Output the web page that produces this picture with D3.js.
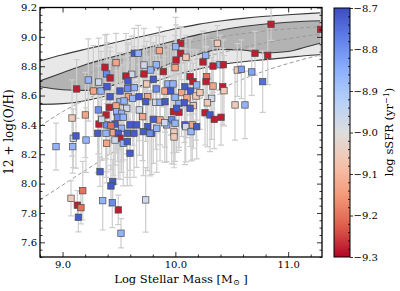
<!DOCTYPE html>
<html>
<head>
<meta charset="utf-8">
<script src="https://cdn.jsdelivr.net/npm/d3@7"></script>
<style>
  body { margin: 0; background: #fff; }
  svg { display: block; font-family: "DejaVu Serif", serif; }
</style>
</head>
<body>
<svg id="chart" width="400" height="291"></svg>
<script>
// ---- galaxies: stellar mass, metallicity, error, sSFR ----
const mass = [
  9.636, 9.671, 9.858, 10.047, 10.003, 10.047, 10.094, 10.006, 9.997, 10.245,
  10.334, 10.269, 10.372, 10.396, 10.425, 10.706, 10.819, 10.848, 11.288, 9.474,
  9.376, 9.722, 9.83, 9.613, 9.722, 9.781, 9.893, 10.13, 10.156, 10.278,
  10.272, 9.391, 9.421, 9.228, 9.32, 9.804, 9.562, 9.58, 9.125, 9.273,
  9.341, 9.394, 9.509, 9.577, 9.636, 9.83, 9.935, 9.979, 9.908, 9.959,
  10.085, 10.136, 10.189, 9.746, 10.056, 10.103, 10.183, 10.218, 10.334, 10.42,
  10.431, 10.322, 10.283, 10.529, 10.617, 10.677, 10.549, 10.585, 10.774, 10.263,
  10.307, 10.345, 10.405, 10.032, 9.421, 9.583, 9.622, 9.678, 9.755, 9.509,
  9.545, 9.474, 9.414, 9.569, 9.317, 9.48, 9.524, 9.68, 9.71, 9.737,
  9.826, 9.864, 9.908, 10.032, 10.079, 10.159, 9.804, 9.864, 9.968, 9.997,
  10.085, 10.15, 9.982, 9.923, 9.385, 9.084, 9.202, 9.323, 9.391, 9.465,
  9.524, 9.598, 9.657, 9.755, 9.79, 9.835, 9.906, 9.716, 9.312, 9.385,
  9.45, 9.494, 9.574, 9.509, 9.465, 9.391, 9.538, 9.574, 9.208, 9.095,
  8.942, 9.09, 9.988, 9.988, 10.092, 10.139, 10.189, 9.598, 9.737, 9.332,
  9.445, 9.429, 9.179, 9.075, 9.356, 9.441, 9.131, 9.163, 9.494, 9.14,
  9.518, 9.119, 9.429, 9.997, 10.13, 10.012, 9.489, 9.538, 9.347, 9.633,
  9.775
];
const oh = [
  8.888, 8.888, 8.906, 8.956, 8.933, 8.888, 8.861, 8.842, 8.79, 8.829,
  8.801, 8.874, 8.956, 8.81, 8.81, 8.888, 8.874, 9.086, 9.051, 8.824,
  8.793, 8.808, 8.81, 8.745, 8.747, 8.774, 8.763, 8.729, 8.695, 8.729,
  8.695, 8.747, 8.72, 8.706, 8.692, 8.711, 8.733, 8.699, 8.645, 8.631,
  8.631, 8.66, 8.631, 8.647, 8.654, 8.645, 8.679, 8.679, 8.631, 8.631,
  8.66, 8.631, 8.672, 8.679, 8.62, 8.584, 8.597, 8.62, 8.665, 8.66,
  8.633, 8.581, 8.551, 8.536, 8.536, 8.761, 8.774, 8.779, 8.695, 8.483,
  8.468, 8.438, 8.452, 8.486, 8.592, 8.592, 8.581, 8.592, 8.592, 8.558,
  8.563, 8.529, 8.52, 8.513, 8.502, 8.49, 8.479, 8.502, 8.456, 8.558,
  8.554, 8.554, 8.558, 8.547, 8.551, 8.531, 8.438, 8.434, 8.434, 8.411,
  8.4, 8.4, 8.49, 8.4, 8.468, 8.447, 8.468, 8.406, 8.4, 8.406,
  8.377, 8.4, 8.4, 8.388, 8.343, 8.377, 8.415, 8.354, 8.343, 8.343,
  8.347, 8.343, 8.343, 8.309, 8.297, 8.275, 8.275, 8.286, 8.297, 8.309,
  8.252, 8.252, 8.352, 8.318, 8.388, 8.354, 8.388, 8.207, 7.889, 8.081,
  8.013, 7.984, 7.952, 7.9, 7.884, 7.87, 7.853, 7.836, 7.821, 7.771,
  7.662, 8.325, 8.395, 8.588, 8.513, 8.513, 8.452, 8.452, 8.438, 8.343,
  8.343
];
const ohErr = [
  0.17, 0.19, 0.16, 0.11, 0.2, 0.18, 0.15, 0.24, 0.22, 0.21,
  0.18, 0.14, 0.12, 0.2, 0.17, 0.15, 0.2, 0.11, 0.18, 0.2,
  0.22, 0.25, 0.2, 0.26, 0.19, 0.23, 0.24, 0.26, 0.22, 0.2,
  0.24, 0.27, 0.21, 0.28, 0.3, 0.25, 0.29, 0.26, 0.2, 0.31,
  0.27, 0.3, 0.26, 0.3, 0.28, 0.3, 0.27, 0.25, 0.28, 0.3,
  0.26, 0.28, 0.24, 0.29, 0.3, 0.27, 0.3, 0.25, 0.22, 0.26,
  0.24, 0.28, 0.3, 0.24, 0.23, 0.16, 0.18, 0.2, 0.21, 0.22,
  0.25, 0.2, 0.19, 0.26, 0.31, 0.28, 0.32, 0.3, 0.27, 0.33,
  0.3, 0.29, 0.32, 0.31, 0.3, 0.28, 0.33, 0.31, 0.3, 0.27,
  0.32, 0.29, 0.31, 0.3, 0.27, 0.29, 0.3, 0.28, 0.3, 0.26,
  0.27, 0.24, 0.28, 0.25, 0.3, 0.26, 0.29, 0.3, 0.32, 0.28,
  0.3, 0.31, 0.29, 0.3, 0.28, 0.3, 0.27, 0.3, 0.27, 0.3,
  0.29, 0.31, 0.3, 0.28, 0.3, 0.27, 0.29, 0.3, 0.22, 0.2,
  0.16, 0.18, 0.22, 0.21, 0.24, 0.2, 0.22, 0.22, 0.22, 0.1,
  0.15, 0.14, 0.2, 0.12, 0.2, 0.17, 0.1, 0.11, 0.1, 0.1,
  0.1, 0.22, 0.3, 0.28, 0.26, 0.3, 0.3, 0.29, 0.28, 0.3,
  0.29
];
const ssfr = [
  -8.72, -8.86, -9.13, -9.28, -8.86, -9.28, -9.06, -9.28, -9.13, -9.28,
  -9.28, -8.86, -9.06, -8.86, -9.28, -9.28, -9.28, -9.28, -9.28, -9.13,
  -9.28, -8.97, -8.86, -8.97, -9.28, -8.86, -9.28, -9.28, -9.28, -9.2,
  -9.28, -8.79, -9.28, -8.86, -8.97, -8.72, -9.28, -8.72, -9.28, -9.13,
  -8.86, -8.72, -8.72, -8.79, -8.86, -8.79, -8.86, -8.86, -9.13, -8.72,
  -8.72, -8.72, -8.86, -9.06, -9.13, -9.13, -9.06, -9.06, -9.13, -9.28,
  -9.06, -8.97, -9.06, -9.06, -8.86, -8.83, -9.06, -8.82, -8.75, -9.28,
  -8.72, -9.28, -9.28, -9.28, -8.72, -9.13, -8.86, -8.72, -9.13, -8.86,
  -8.86, -9.13, -9.28, -8.97, -8.79, -8.86, -8.86, -8.97, -9.13, -8.72,
  -8.97, -8.86, -8.72, -8.86, -8.72, -9.06, -8.72, -9.13, -8.79, -8.86,
  -8.72, -9.13, -9.28, -8.86, -9.28, -9.06, -9.13, -9.28, -8.79, -8.72,
  -8.86, -8.72, -8.72, -8.72, -8.72, -8.86, -8.97, -8.72, -8.72, -8.86,
  -9.13, -8.72, -8.72, -9.28, -8.97, -9.13, -8.86, -8.72, -8.86, -8.97,
  -8.86, -8.86, -9.06, -9.06, -8.97, -8.86, -8.72, -8.72, -8.97, -8.72,
  -8.72, -8.72, -9.2, -9.06, -8.86, -8.79, -9.28, -9.2, -9.28, -8.72,
  -8.86, -8.72, -9.2, -8.86, -8.72, -8.72, -8.79, -8.86, -8.97, -8.72,
  -8.79
];

// ---- reference relations (two 1-sigma bands) ----
const bandMass  = [8.8, 9.0, 9.2, 9.4, 9.6, 9.8, 10.0, 10.2, 10.4, 10.6, 10.8, 11.0, 11.2, 11.3];
const bandAHigh = [8.836, 8.878, 8.915, 8.95, 8.985, 9.02, 9.055, 9.085, 9.108, 9.126, 9.14, 9.151, 9.16, 9.164];
const bandALow  = [8.66, 8.64, 8.635, 8.66, 8.71, 8.77, 8.83, 8.88, 8.915, 8.91, 8.89, 8.9, 8.94, 8.96];
const bandBHigh = [8.70, 8.755, 8.81, 8.855, 8.895, 8.935, 8.975, 9.015, 9.045, 9.07, 9.088, 9.10, 9.108, 9.11];
const bandBLow  = [8.54, 8.545, 8.565, 8.60, 8.645, 8.69, 8.74, 8.78, 8.81, 8.83, 8.845, 8.86, 8.875, 8.88];

// dashed relations
const dashAMass = [9.2, 9.6, 10.0, 10.4, 10.8, 11.3];
const dashAOH   = [8.74, 8.86, 8.94, 9.0, 9.04, 9.07];
const dashBMass = [8.8, 9.0, 9.2, 9.55, 10.0, 10.35, 10.8, 11.3];
const dashBOH   = [8.39, 8.49, 8.57, 8.69, 8.81, 8.88, 8.96, 9.02];
const dashCMass = [8.8, 9.1, 9.4, 9.6, 9.9, 10.2, 10.5, 10.8, 11.1, 11.3];
const dashCOH   = [7.89, 8.04, 8.19, 8.30, 8.44, 8.57, 8.68, 8.77, 8.84, 8.88];

// ticks
const xMajor = [9, 10, 11];
const yMajor = [7.6, 7.8, 8.0, 8.2, 8.4, 8.6, 8.8, 9.0, 9.2];
const cbarTicks = [-8.7, -8.8, -8.9, -9.0, -9.1, -9.2, -9.3];

// coolwarm colour map samples
const coolwarm = ["#3b4cc0", "#6282ea", "#8db0fe", "#b8d0f9", "#dddddd",
                  "#f5c4ad", "#f49a7b", "#de604d", "#b40426"];

const svg = d3.select("#chart");
const margin = { left: 40, right: 322, top: 7.5, bottom: 257 };

const x = d3.scaleLinear().domain([8.8, 11.3]).range([margin.left, margin.right]);
const y = d3.scaleLinear().domain([7.5, 9.2]).range([margin.bottom, margin.top]);

const cmap = d3.piecewise(d3.interpolateRgb, coolwarm);
const sScale = d3.scaleLinear().domain([-9.3, -8.7]).range([1, 0]).clamp(true); // coolwarm_r
const colour = v => cmap(sScale(v));

const defs = svg.append("defs");
defs.append("clipPath").attr("id", "plotClip")
    .append("rect")
    .attr("x", margin.left).attr("y", margin.top)
    .attr("width", margin.right - margin.left)
    .attr("height", margin.bottom - margin.top);

const bandA = bandMass.map((m, i) => ({ m, lo: bandALow[i], hi: bandAHigh[i] }));
const bandB = bandMass.map((m, i) => ({ m, lo: bandBLow[i], hi: bandBHigh[i] }));

const area = d3.area()
    .x(d => x(d.m))
    .y0(d => y(d.lo))
    .y1(d => y(d.hi))
    .curve(d3.curveMonotoneX);

defs.append("clipPath").attr("id", "bandBClip")
    .append("path").attr("d", area(bandB));

const plot = svg.append("g").attr("clip-path", "url(#plotClip)");

// bands: light where single, dark where they overlap
plot.append("path").attr("d", area(bandA)).attr("fill", "#e8e8e8");
plot.append("path").attr("d", area(bandB)).attr("fill", "#e8e8e8");
plot.append("path").attr("d", area(bandA)).attr("fill", "#b3b3b3")
    .attr("clip-path", "url(#bandBClip)");

const line = d3.line()
    .x(d => x(d[0]))
    .y(d => y(d[1]))
    .curve(d3.curveMonotoneX);

[bandAHigh, bandALow, bandBHigh, bandBLow].forEach(arr => {
    plot.append("path")
        .attr("d", line(bandMass.map((m, i) => [m, arr[i]])))
        .attr("fill", "none")
        .attr("stroke", "#3a3a3a")
        .attr("stroke-width", 1.1);
});

[[dashAMass, dashAOH], [dashBMass, dashBOH], [dashCMass, dashCOH]].forEach(([ms, os]) => {
    plot.append("path")
        .attr("d", line(ms.map((m, i) => [m, os[i]])))
        .attr("fill", "none")
        .attr("stroke", "#9a9a9a")
        .attr("stroke-width", 1)
        .attr("stroke-dasharray", "4,2.5");
});

// error bars
const points = mass.map((m, i) => ({ m, oh: oh[i], err: ohErr[i], s: ssfr[i] }));

const bars = plot.append("g")
    .attr("stroke", "#cdcdcd")
    .attr("stroke-width", 1.2)
    .selectAll("g")
    .data(points)
    .enter().append("g");

bars.append("line")
    .attr("x1", d => x(d.m)).attr("x2", d => x(d.m))
    .attr("y1", d => y(d.oh - d.err)).attr("y2", d => y(d.oh + d.err));
bars.append("line")
    .attr("x1", d => x(d.m) - 3).attr("x2", d => x(d.m) + 3)
    .attr("y1", d => y(d.oh - d.err)).attr("y2", d => y(d.oh - d.err));
bars.append("line")
    .attr("x1", d => x(d.m) - 3).attr("x2", d => x(d.m) + 3)
    .attr("y1", d => y(d.oh + d.err)).attr("y2", d => y(d.oh + d.err));

// squares coloured by sSFR
const sq = 6.4;
plot.append("g").selectAll("rect")
    .data(points)
    .enter().append("rect")
    .attr("x", d => x(d.m) - sq / 2)
    .attr("y", d => y(d.oh) - sq / 2)
    .attr("width", sq)
    .attr("height", sq)
    .attr("fill", d => colour(d.s))
    .attr("stroke", "#4a4a4a")
    .attr("stroke-width", 0.7);

// axes, ticks pointing in
function minorTicks(lo, hi, step) {
    const n = Math.round((hi - lo) / step);
    return d3.range(n + 1).map(i => +(lo + i * step).toFixed(3));
}
const xMinor = minorTicks(8.8, 11.2, 0.2).filter(v => !xMajor.some(t => Math.abs(t - v) < 1e-6));
const yMinor = minorTicks(7.5, 9.2, 0.05).filter(v => !yMajor.some(t => Math.abs(t - v) < 1e-6));

function styleAxis(g) {
    g.select(".domain").remove();
    g.selectAll(".tick line").attr("stroke", "#000").attr("stroke-width", 0.8);
    g.selectAll("text").attr("font-family", "DejaVu Serif, serif").attr("font-size", 10).attr("fill", "#000");
}

svg.append("g").attr("transform", `translate(0,${margin.bottom})`)
    .call(d3.axisBottom(x).tickValues(xMajor).tickSize(-5).tickPadding(4).tickFormat(d3.format(".1f")))
    .call(styleAxis);
svg.append("g").attr("transform", `translate(0,${margin.bottom})`)
    .call(d3.axisBottom(x).tickValues(xMinor).tickSize(-2.5).tickFormat(""))
    .call(styleAxis);
svg.append("g").attr("transform", `translate(0,${margin.top})`)
    .call(d3.axisTop(x).tickValues(xMajor).tickSize(-5).tickFormat(""))
    .call(styleAxis);
svg.append("g").attr("transform", `translate(0,${margin.top})`)
    .call(d3.axisTop(x).tickValues(xMinor).tickSize(-2.5).tickFormat(""))
    .call(styleAxis);

svg.append("g").attr("transform", `translate(${margin.left},0)`)
    .call(d3.axisLeft(y).tickValues(yMajor).tickSize(-5).tickPadding(3).tickFormat(d3.format(".1f")))
    .call(styleAxis);
svg.append("g").attr("transform", `translate(${margin.left},0)`)
    .call(d3.axisLeft(y).tickValues(yMinor).tickSize(-2.5).tickFormat(""))
    .call(styleAxis);
svg.append("g").attr("transform", `translate(${margin.right},0)`)
    .call(d3.axisRight(y).tickValues(yMajor).tickSize(-5).tickFormat(""))
    .call(styleAxis);
svg.append("g").attr("transform", `translate(${margin.right},0)`)
    .call(d3.axisRight(y).tickValues(yMinor).tickSize(-2.5).tickFormat(""))
    .call(styleAxis);

svg.append("rect")
    .attr("x", margin.left).attr("y", margin.top)
    .attr("width", margin.right - margin.left)
    .attr("height", margin.bottom - margin.top)
    .attr("fill", "none").attr("stroke", "#000").attr("stroke-width", 1.3);

// axis labels
const xl = svg.append("text")
    .attr("x", 181).attr("y", 283)
    .attr("text-anchor", "middle")
    .attr("font-size", 11.5)
    .text("Log Stellar Mass [M");
xl.append("tspan").attr("font-size", 8).attr("dy", 2).text("\u2299");
xl.append("tspan").attr("dy", -2).text(" ]");

svg.append("text")
    .attr("transform", "translate(13,132) rotate(-90)")
    .attr("text-anchor", "middle")
    .attr("font-size", 12)
    .text("12 + log(O/H)");

// colour bar
const cb = { x: 334, w: 16, top: 8, bottom: 257 };
const grad = defs.append("linearGradient").attr("id", "cbarGrad")
    .attr("x1", 0).attr("y1", 0).attr("x2", 0).attr("y2", 1);
d3.range(0, 1.0001, 0.05).forEach(t => {
    grad.append("stop").attr("offset", t).attr("stop-color", cmap(t));
});

const cy = d3.scaleLinear().domain([-9.3, -8.7]).range([cb.bottom, cb.top]);

svg.append("rect")
    .attr("x", cb.x).attr("y", cb.top)
    .attr("width", cb.w).attr("height", cb.bottom - cb.top)
    .attr("fill", "url(#cbarGrad)");

const cbMinor = minorTicks(-9.3, -8.7, 0.02).filter(v => !cbarTicks.some(t => Math.abs(t - v) < 1e-6));
svg.append("g").attr("transform", `translate(${cb.x + cb.w},0)`)
    .call(d3.axisRight(cy).tickValues(cbMinor).tickSize(-2).tickFormat(""))
    .call(styleAxis);
svg.append("g").attr("transform", `translate(${cb.x + cb.w},0)`)
    .call(d3.axisRight(cy).tickValues(cbarTicks).tickSize(3).tickPadding(0.5)
        .tickFormat(d => d3.format(".1f")(d).replace("-", "\u2212")))
    .call(styleAxis);

svg.append("rect")
    .attr("x", cb.x).attr("y", cb.top)
    .attr("width", cb.w).attr("height", cb.bottom - cb.top)
    .attr("fill", "none").attr("stroke", "#000").attr("stroke-width", 1);

const cl = svg.append("text")
    .attr("transform", "translate(393,132) rotate(-90)")
    .attr("text-anchor", "middle")
    .attr("font-size", 11.5)
    .text("log sSFR (yr");
cl.append("tspan").attr("font-size", 8).attr("dy", -4).text("\u22121");
cl.append("tspan").attr("dy", 4).text(")");
</script>
</body>
</html>
